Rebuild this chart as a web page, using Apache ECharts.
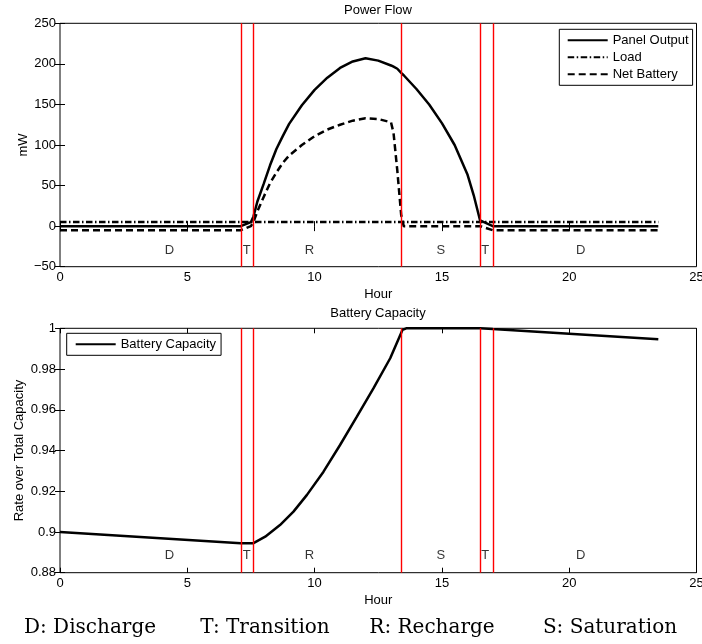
<!DOCTYPE html>
<html><head><meta charset="utf-8">
<script src="https://cdn.jsdelivr.net/npm/echarts@6/dist/echarts.min.js"></script>
<style>html,body{margin:0;padding:0;background:#fff}#c{width:702px;height:644px}</style>
</head><body><div id="c"></div>
<script>
// ---- data ----
const hours        = [0, 7.1, 7.5, 7.6, 7.75, 8.0, 8.25, 8.5, 8.75, 9.0, 9.5, 10.0, 10.5, 11.0, 11.5, 12.0, 12.5, 13.0, 13.1, 13.25, 13.4, 13.5, 14.0, 14.5, 15.0, 15.5, 16.0, 16.25, 16.5, 17.0, 23.5];
const panelOutput  = [0, 0, 5, 12, 30, 52, 75, 95, 111, 126, 149, 168, 183, 195, 203, 207, 204, 198, 196.5, 194, 189, 186, 169, 150, 127, 100, 64, 38, 7, 0, 0];
const load         = [5, 5, 5, 5, 5, 5, 5, 5, 5, 5, 5, 5, 5, 5, 5, 5, 5, 5, 5, 5, 5, 5, 5, 5, 5, 5, 5, 5, 5, 5, 5];
const netBattery   = [-5, -5, 0, 5, 18, 36, 53, 66, 78, 87, 100, 111, 119, 125, 130, 133, 132, 128, 115, 68, 14, 0, 0, 0, 0, 0, 0, 0, 0, -5, -5];
const capHours        = [0, 7.1, 7.6, 8.06, 8.64, 9.17, 9.7, 10.35, 11.0, 11.66, 12.31, 12.97, 13.45, 13.6, 16.5, 17.0, 20.0, 23.5];
const batteryCapacity = [0.9, 0.8944, 0.8945, 0.8977, 0.9034, 0.910, 0.9182, 0.9296, 0.9427, 0.9566, 0.9705, 0.9853, 0.9992, 1.0, 1.0, 0.9996, 0.9973, 0.9946];
const phaseBounds  = [7.1, 7.6, 13.4, 16.5, 17.0];
const phaseLabels  = ['D', 'T', 'R', 'S', 'T', 'D'];
const phaseX       = [4.3, 7.33, 9.8, 14.96, 16.7, 20.45];
const phaseYPower  = -30;
const phaseYCap    = 0.8883;
const hourTicks    = [0, 25, 5];        // min, max, interval
const powerTicks   = [-50, 250, 50];
const capTicks     = [0.88, 1, 0.02];
const footnotes    = ['D: Discharge', 'T: Transition', 'R: Recharge', 'S: Saturation'];

// ---- helpers ----
const FONT = "'Liberation Sans', Arial, Helvetica, sans-serif";
const zip = (xs, ys) => xs.map((x, i) => [x, ys[i]]);
const grids = [
  {left: 60, right: 5.5, top: 23.3, height: 243.4},
  {left: 60, right: 5.5, top: 328.3, height: 244.4}
];
function xAx(gi, pos, showLabel) {
  return {
    type: 'value', gridIndex: gi, position: pos,
    min: hourTicks[0], max: hourTicks[1], interval: hourTicks[2],
    name: showLabel ? 'Hour' : '', nameLocation: 'middle', nameGap: 21, nameMoveOverlap: false,
    nameTextStyle: {color: '#000', fontSize: 13, fontFamily: FONT},
    axisLine: {show: false},
    axisTick: {show: true, inside: true, length: 5, lineStyle: {color: '#000', width: 1}},
    axisLabel: {show: showLabel, margin: 4, color: '#000', fontSize: 13, fontFamily: FONT},
    splitLine: {show: false}
  };
}
function yAx(gi, pos, ticks, name, gap, showLabel, fmt) {
  return {
    type: 'value', gridIndex: gi, position: pos,
    min: ticks[0], max: ticks[1], interval: ticks[2],
    name: showLabel ? name : '', nameLocation: 'middle', nameGap: gap, nameRotate: 90, nameMoveOverlap: false,
    nameTextStyle: {color: '#000', fontSize: 13, fontFamily: FONT},
    axisLine: {show: false},
    axisTick: {show: true, inside: true, length: 5, lineStyle: {color: '#000', width: 1}},
    axisLabel: {show: showLabel, margin: 4, color: '#000', fontSize: 13, fontFamily: FONT, formatter: fmt},
    splitLine: {show: false}
  };
}
function vlines() {
  const ls = {color: '#ff0000', type: 'solid', width: 1.4, opacity: 1};
  return {
    silent: true, symbol: ['none', 'none'], animation: false,
    label: {show: false},
    lineStyle: ls,
    emphasis: {disabled: true, lineStyle: ls},
    data: phaseBounds.map(v => ({xAxis: v, lineStyle: ls}))
  };
}
function phaseSeries(xi, yi, yv) {
  return {
    type: 'scatter', xAxisIndex: xi, yAxisIndex: yi, symbolSize: 0, silent: true,
    data: phaseLabels.map((n, i) => ({name: n, value: [phaseX[i], yv]})),
    label: {show: true, position: 'inside', formatter: p => p.name, color: '#000', fontSize: 13, fontFamily: FONT},
    z: 5
  };
}
const legendCommon = {
  orient: 'vertical', itemWidth: 40, itemHeight: 12, itemGap: 4,
  backgroundColor: '#fff', borderColor: '#000', borderWidth: 1, borderRadius: 0,
  textStyle: {color: '#000', fontSize: 13, fontFamily: FONT},
  itemStyle: {opacity: 0}
};
const minusFmt = v => String(v).replace('-', '\u2212');

const chart = echarts.init(document.getElementById('c'), null, {renderer: 'canvas'});
chart.setOption({
  animation: false,
  backgroundColor: '#fff',
  title: [
    {text: 'Power Flow', left: 378, top: 3.5, textAlign: 'center', padding: 0,
     textStyle: {fontSize: 13, fontWeight: 'normal', color: '#000', fontFamily: FONT}},
    {text: 'Battery Capacity', left: 378, top: 307, textAlign: 'center', padding: 0,
     textStyle: {fontSize: 13, fontWeight: 'normal', color: '#000', fontFamily: FONT}}
  ],
  grid: grids.map(g => Object.assign({show: true, borderColor: '#000', borderWidth: 1, backgroundColor: '#fff', containLabel: false, outerBoundsMode: 'none'}, g)),
  xAxis: [xAx(0, 'bottom', true), xAx(0, 'top', false), xAx(1, 'bottom', true), xAx(1, 'top', false)],
  yAxis: [
    yAx(0, 'left', powerTicks, 'mW', 30, true, minusFmt),
    yAx(0, 'right', powerTicks, '', 0, false),
    yAx(1, 'left', capTicks, 'Rate over Total Capacity', 34, true, v => String(+v.toFixed(2))),
    yAx(1, 'right', capTicks, '', 0, false)
  ],
  legend: [
    Object.assign({}, legendCommon, {left: 559.3, top: 29.3, padding: [4.5, 4, 4.5, 7.4],
      data: ['Panel Output', 'Load', 'Net Battery']}),
    Object.assign({}, legendCommon, {left: 66.7, top: 333.3, padding: [4.5, 5, 4.5, 8],
      data: ['Battery Capacity']})
  ],
  series: [
    {name: 'Panel Output', type: 'line', xAxisIndex: 0, yAxisIndex: 0, data: zip(hours, panelOutput),
     symbol: 'none', lineStyle: {color: '#000', width: 2.5}, itemStyle: {color: '#000'}, markLine: vlines(), z: 3},
    {name: 'Load', type: 'line', xAxisIndex: 0, yAxisIndex: 0, data: zip(hours, load),
     symbol: 'none', lineStyle: {color: '#000', width: 2.5, type: [6.5, 2.5, 1.5, 2.5]}, itemStyle: {color: '#000'}, z: 3},
    {name: 'Net Battery', type: 'line', xAxisIndex: 0, yAxisIndex: 0, data: zip(hours, netBattery),
     symbol: 'none', lineStyle: {color: '#000', width: 2.5, type: [7, 4]}, itemStyle: {color: '#000'}, z: 3},
    phaseSeries(0, 0, phaseYPower),
    {name: 'Battery Capacity', type: 'line', xAxisIndex: 2, yAxisIndex: 2, data: zip(capHours, batteryCapacity),
     symbol: 'none', lineStyle: {color: '#000', width: 2.5}, itemStyle: {color: '#000'}, markLine: vlines(), z: 3},
    phaseSeries(2, 2, phaseYCap)
  ],
  graphic: [90, 265, 432, 610].map((cx, i) => ({
    type: 'text', x: cx, y: 628, silent: true,
    style: {text: footnotes[i], fill: '#000', font: "20px 'DejaVu Serif', 'Liberation Serif', serif",
            textAlign: 'center', textVerticalAlign: 'middle'}
  }))
});
</script></body></html>
